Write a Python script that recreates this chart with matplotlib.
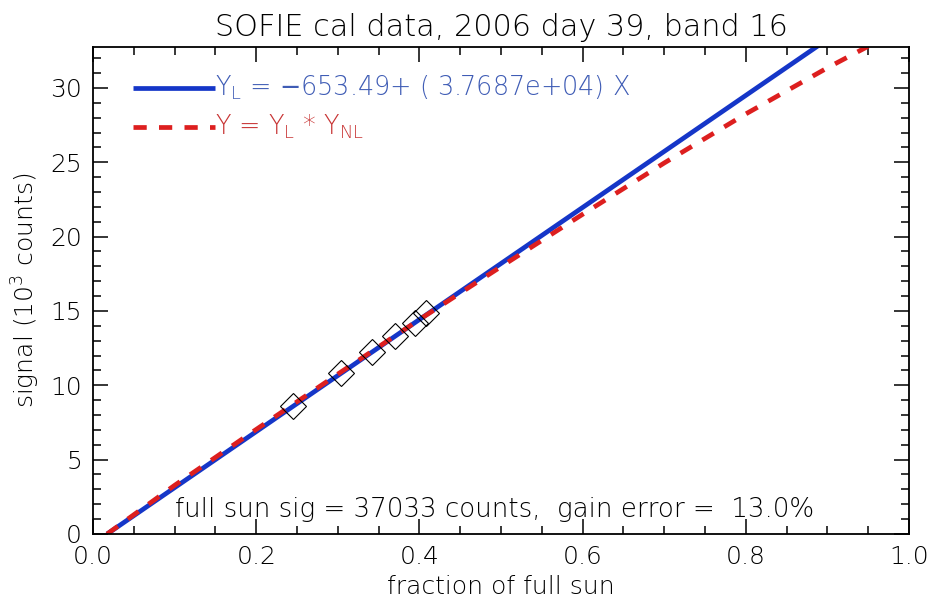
import numpy as np
import matplotlib
matplotlib.use('Agg')
import matplotlib.pyplot as plt
from matplotlib.ticker import MultipleLocator, FormatStrFormatter

# linear fit (counts)
offset = -653.49
slope = 3.7687e+04
x_lin = [0.0173, 0.95]

# nonlinear curve Y = YL * YNL (10^3 counts)
x_nl = [0.0173, 0.1, 0.2, 0.3, 0.4, 0.5, 0.6, 0.7, 0.8, 0.9, 0.95]
y_nl = [0.0, 3.27, 7.03, 10.75, 14.42, 17.98, 21.5, 24.95, 28.25, 31.35, 32.8]

# measured points
x_pts = [0.2445, 0.304, 0.342, 0.370, 0.394, 0.408]
y_pts = [8.61, 10.83, 12.24, 13.32, 14.19, 14.86]

blue = '#1536c8'
red = '#dd1f1f'
fw = 'light'
dash = (2.8, 2.6)

fig = plt.figure(figsize=(9.29, 6.05), dpi=100)
ax = fig.add_axes([0.1001, 0.1174, 0.8784, 0.8049])

y_lin = [(offset + slope * x) / 1000 for x in x_lin]
ax.plot(x_lin, y_lin, color=blue, lw=3.4, solid_capstyle='butt')
ax.plot(x_nl, y_nl, color=red, lw=3.4, dashes=dash, dash_capstyle='butt')
ax.plot(x_pts, y_pts, 'D', mfc='none', mec='black', ms=13, mew=0.8)

# legend drawn in data coordinates like the original
ax.plot([0.049, 0.150], [30.0, 30.0], color=blue, lw=3.4, solid_capstyle='butt')
ax.plot([0.049, 0.150], [27.4, 27.4], color=red, lw=3.4, dashes=dash)
ax.text(0.150, 30.0, r'$\mathregular{Y_L}$ = $-$653.49+ ( 3.7687e+04) X', color='#3f5cb5',
        fontsize=18.4, va='center', ha='left', fontweight=fw)
ax.text(0.150, 27.4, r'Y = $\mathregular{Y_L}$ * $\mathregular{Y_{NL}}$', color='#c83434',
        fontsize=18.4, va='center', ha='left', fontweight=fw)
ax.text(0.100, 1.65, 'full sun sig = 37033 counts,  gain error =  13.0%',
        color='black', fontsize=18.8, va='center', ha='left', fontweight=fw)

ax.set_xlim(0, 1)
ax.set_ylim(0, 32.75)
ax.xaxis.set_major_locator(MultipleLocator(0.2))
ax.xaxis.set_minor_locator(MultipleLocator(0.05))
ax.yaxis.set_major_locator(MultipleLocator(5))
ax.yaxis.set_minor_locator(MultipleLocator(1))
ax.xaxis.set_major_formatter(FormatStrFormatter('%.1f'))
ax.yaxis.set_major_formatter(FormatStrFormatter('%d'))
ax.tick_params(which='both', direction='in', top=True, right=True, labelsize=18, pad=8)
ax.tick_params(which='major', length=11, width=1.1)
ax.tick_params(which='minor', length=6, width=1.1)
for lab in ax.get_xticklabels() + ax.get_yticklabels():
    lab.set_fontweight(fw)
for s in ax.spines.values():
    s.set_linewidth(1.3)

ax.set_xlabel('fraction of full sun', fontsize=18, labelpad=4, fontweight=fw)
ax.set_ylabel(r'signal ($\mathregular{10^3}$ counts)', fontsize=18, labelpad=6, fontweight=fw)
ax.set_title('SOFIE cal data, 2006 day 39, band 16', fontsize=21.8, pad=8, fontweight=fw)

fig.savefig('out.png', dpi=100)
